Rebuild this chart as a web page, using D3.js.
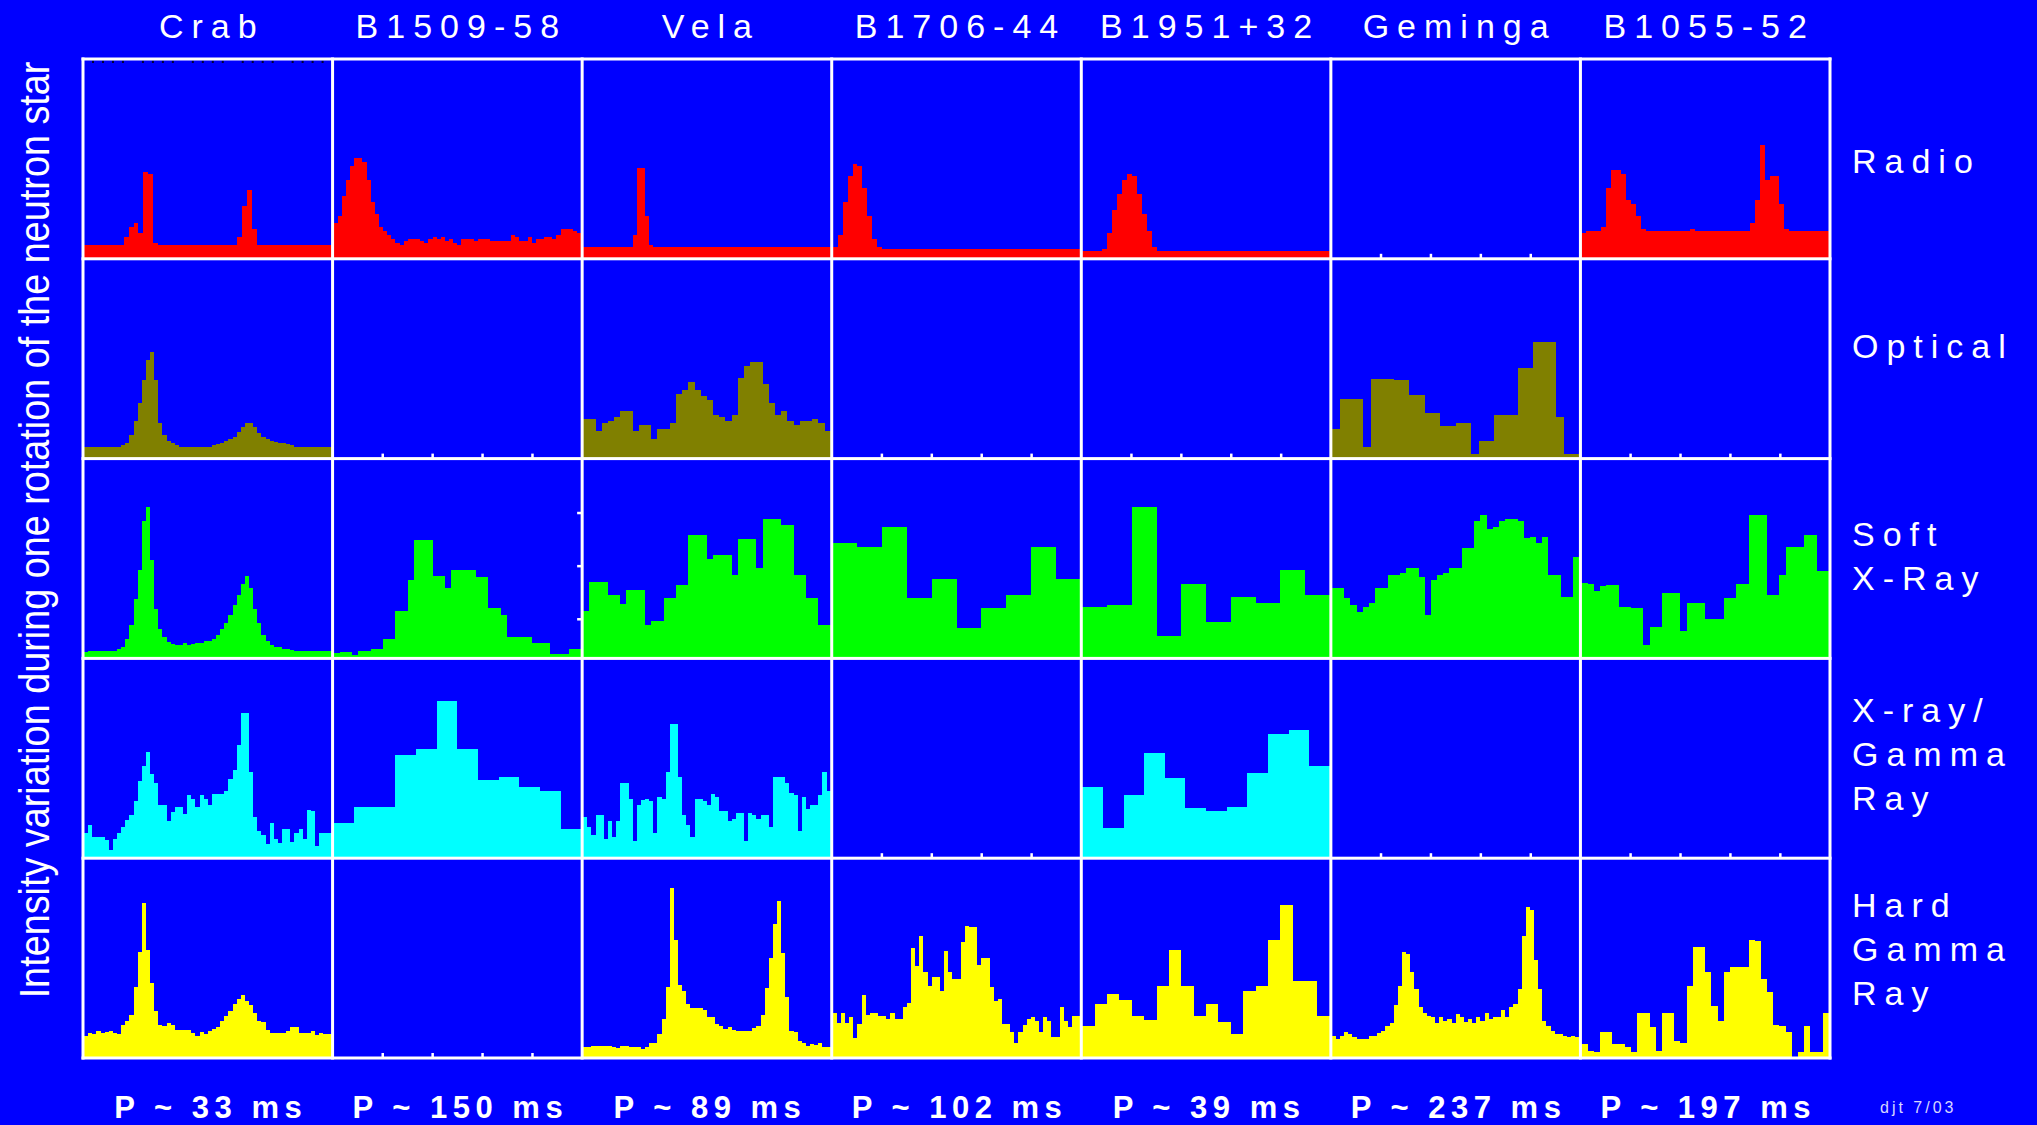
<!DOCTYPE html>
<html>
<head>
<meta charset="utf-8">
<script src="https://cdn.jsdelivr.net/npm/d3@7"></script>
<style>
  html, body { margin: 0; padding: 0; background: #0000ff; overflow: hidden; }
  svg { display: block; }
</style>
</head>
<body>
<script>
// Pulsars (columns) and wavebands (rows)
const pulsars = ["Crab", "B1509-58", "Vela", "B1706-44", "B1951+32", "Geminga", "B1055-52"];
const periods = ["P ~ 33 ms", "P ~ 150 ms", "P ~ 89 ms", "P ~ 102 ms", "P ~ 39 ms", "P ~ 237 ms", "P ~ 197 ms"];
const bandKeys = ["radio", "optical", "softx", "xgamma", "hardgamma"];
const bandLabels = [["Radio"], ["Optical"], ["Soft", "X-Ray"], ["X-ray/", "Gamma", "Ray"], ["Hard", "Gamma", "Ray"]];
const yTitle = "Intensity variation during one rotation of the neutron star";
const stamp = "djt 7/03";

// Pulse profiles: relative intensity per phase bin (0-100 = panel height)
const radioCrab = [7,7,7,7,7,7,7,7,11,16, 18,13,44,43,8,7,7,7,7,7, 7,7,7,7,7,7,7,7,7,7, 7,11,27,35,15,7,7,7,7,7, 7,7,7,7,7,7,7,7,7,7];
const radioB1509 = [18,22,32,40,47,51,51,49,40,29, 23,16,14,12,10,8,7,9,10,10, 10,9,8,10,11,10,11,9,10,8, 7,10,10,10,9,10,10,10,9,9, 9,9,9,12,11,9,9,11,8,10, 10,11,11,10,12,15,15,15,14,13];
const radioVela = [6,6,6,6,6,6,6,6,6,6, 6,6,12,46,46,22,7,6,6,6, 6,6,6,6,6,6,6,6,6,6, 6,6,6,6,6,6,6,6,6,6, 6,6,6,6,6,6,6,6,6,6, 6,6,6,6,6,6,6,6,6,6];
const radioB1706 = [6,12,29,42,48,47,36,22,10,6, 5,5,5,5,5,5,5,5,5,5, 5,5,5,5,5,5,5,5,5,5, 5,5,5,5,5,5,5,5,5,5, 5,5,5,5,5,5,5,5,5,5];
const radioB1951 = [4,4,4,4,5,13,25,33,40,43, 42,33,23,14,6,4,4,4,4,4, 4,4,4,4,4,4,4,4,4,4, 4,4,4,4,4,4,4,4,4,4, 4,4,4,4,4,4,4,4,4,4];
const radioB1055 = [13,14,14,14,16,36,45,45,43,30, 28,22,15,14,14,14,14,14,14,14, 14,14,15,14,14,14,14,14,14,14, 14,14,14,14,18,30,58,40,42,42, 28,15,14,14,14,14,14,14,14,14];

const opticalCrab = [6,6,6,6,6,6,6,6,6,7, 8,12,19,28,40,50,54,40,18,12, 9,8,7,6,6,6,6,6,6,6, 6,7,7.5,8,9,10,11,13.5,16,18, 18,16,13,11,10,9,8.5,8,8,7.6, 7,6,6,6,6,6,6,6,6,6];
const opticalVela = [20,20,14,18,19,21,24,24,14,17, 17,10,15,15,18,33,35,39,35,32, 30,22,21,19,22,41,47,49,49,38, 28,22,24,19,17,19,19,20,18,14];
const opticalGeminga = [15,30.5,30.5,30.5,6,40.7,40.7,40.7,40,40, 32.5,32.5,23.4,23.4,16.6,16.6,18.3,18.3,2.2,9, 9,22,22,22,45.8,45.8,59,59,59,21, 2.2,2.2];

const softCrab = [3,4,4,4,4,4,4,4,5,6, 10,17,30,45,70,77,50,25,15,11, 8.5,7.5,7,7,7.6,7,7.4,7.6,8,9, 9,10,12,15,18,22,27,32,38,42, 36,25,18,12,9,7,6,6,5,5, 4.5,4,4,4,4,4,4,4,4,4];
const softB1509 = [2.5,3,3,1.7,4,4,4.7,4.7,9.8,9.8, 24,24,40,60,60,60,42,42,36,45, 45,45,45,41.5,41.5,25.4,25.4,22,11,11, 11,11,8,8,8,2,2,2,4.7,4.7];
const softVela = [24,39,39,39,32,32,27.5,35,35,35, 17,19,19,30.5,30.5,37.3,37.3,62.7,62.7,62.7, 50.5,52.5,52.5,52.5,42.4,60.7,60.7,60.7,45.8,70.8, 70.8,70.8,67.8,67.8,42.4,42.4,30.5,30.5,17,17];
const softB1706 = [58.5,56.8,66.9,30.5,40.3,15.3,25.4,32,56.8,40.3];
const softB1951 = [26,27,77,11.4,38,18.3,31.4,28,45,32];
const softGeminga = [36,35.6,30.5,27,23.4,26,28,35.6,35.6,42.4, 42.4,43.2,46,46,41.5,22,40,42.4,43.2,46, 46,56,56,70,72.9,66,67,70,71,71, 70,61,61.5,58.6,61.5,42.4,42.4,31.4,31.4,51.5];
const softB1055 = [38.5,38,34,37,37.3,37.3,26,26,25.4,25.4, 7,16,16,33,33,33,13.9,28,28,28, 20,20,20,30.5,30.5,38,38,72.9,72.9,72.9, 32,32,42.4,56.8,56.8,56.8,62.7,62.7,44.4,44.4];

const xgCrab = [13,17,11,11,11,9,4,10,13,16, 19.5,22,29,39,47,54,43,38,27,27, 19,23.7,25.8,25.8,22.5,32,30,26,32,30, 27,32.5,32.5,32.5,34,40,45,57.6,74,74, 44,21,14,12,7,18,10,7.6,15,15, 8,13,14.7,10,24.7,24,6,12.7,13,13];
const xgB1509 = [18,26,26,52.5,55.6,80,55.6,39.5,41.5,36.4,34,15];
const xgVela = [21,16,12,22,22,10,19,11,19,38, 38,30,8.5,27,29.7,30,29,13,31,30, 44,68,68,41.5,22,17,11,30,30,29, 27,32.5,31,24,24,19,20,23,23,8.5, 23,22,20,22,22,16,41.5,41.5,41.5,38, 33,32,14,31,25,27,27,32,44,34];
const xgB1951 = [36.4,15.3,32,53.7,40.7,25.4,24,26,43.4,63,65,46.6];

const hgCrab = [11.4,12.5,12,13.5,12.5,13,13.5,12.5,12,17, 18.6,22,36,54,79,55,38,24,17,16.4, 17.6,17,14,14,14,14,12.5,11.4,13,12, 13.5,14.5,16,19,21.5,24,27.5,30,32.2,29, 27,23,19,18.5,14,12.5,12.5,12.8,12.8,13.5, 15.6,15.6,12.5,12.5,12.5,13.5,11.5,12.8,12.2,12.2];
const hgVela = [5.4,5.4,6.3,6.3,6.3,6,6,5.8,5.2,6.2, 6.3,5.4,5.8,5.8,4.6,5.8,7.5,7.8,12,20, 36,86.4,60,36.9,34,27.5,25.4,25.4,25.4,24.5, 20.7,20.7,17.3,16.5,14.7,15.8,14,13.6,13.6,13.6, 13.6,15,16.5,22,35.6,51,68,80,53.5,30.8, 13.8,13,8.8,7.5,6.3,7,6.5,7.5,5.4,5.4];
const hgB1706 = [23,18,23,18,20.7,10,17.3,32,22,23, 23,21.5,21.5,19.8,23,19.8,19.8,25.8,27.8,56, 47,62,43.6,36.8,41,41,34,54.6,43.6,40, 40,58.8,67.3,66.4,66.4,47.5,51,51,36,29, 30,17.3,17.3,13,7.5,13,17,20,21,19, 13,21,19,10.5,10.5,25.8,19,15.6,21.5,21.5];
const hgB1951 = [16.4,27.5,32.5,29.5,21.5,19.3,36.8,55,36.8,21.5, 27.5,18.5,12.2,34.2,36.8,60,77.5,39,39,21.5];
const hgGeminga = [11.4,9.7,11.4,13,12,10.5,9.7,9.7,9.7,11.4, 11.4,12.5,13.9,16.4,17.6,27,36.8,53.7,53,43.6, 35,25.8,22.7,21.5,20.7,17.6,21,19,20,17.6, 22.4,20.7,18.5,20,18,21,19,23,20,20.7, 21,24.4,21,25.8,27.5,35,62,76.6,75,50, 35,19,16.4,13.9,12.2,12.2,11.4,10.5,11.4,10.5];
const hgB1055 = [7,3.5,2.9,13,13,7,7,5.4,2.9,23, 23,16,3.7,23,23,8.8,7.5,36.8,56.6,56.6, 43.6,26.6,19,43.6,46.4,46.4,46.4,60,59.7,40.3, 33.4,17,16.4,13,0.5,2.9,16.4,2.9,2.9,23];

// Phase ticks on each panel's baseline, minor phase ticks on the Crab radio frame,
// and the intensity ticks beside the Vela soft X-ray panel
const phaseTicks = [0.2, 0.4, 0.6, 0.8];
const minorPhaseTicks = [0.04,0.08,0.12,0.16, 0.24,0.28,0.32,0.36, 0.44,0.48,0.52,0.56, 0.64,0.68,0.72,0.76, 0.84,0.88,0.92,0.96];
const velaSoftTicks = [20, 47, 74];

// Lookup table: band -> pulsar -> profile (null = no detection shown)
const profiles = {
  radio:     [radioCrab, radioB1509, radioVela, radioB1706, radioB1951, null, radioB1055],
  optical:   [opticalCrab, null, opticalVela, null, null, opticalGeminga, null],
  softx:     [softCrab, softB1509, softVela, softB1706, softB1951, softGeminga, softB1055],
  xgamma:    [xgCrab, xgB1509, xgVela, null, xgB1951, null, null],
  hardgamma: [hgCrab, null, hgVela, hgB1706, hgB1951, hgGeminga, hgB1055]
};
const bandColors = { radio: "#ff0000", optical: "#808000", softx: "#00ff00", xgamma: "#00ffff", hardgamma: "#ffff00" };

const W = 2037, H = 1125;
const font = "'Liberation Sans', Arial, Helvetica, sans-serif";
const svg = d3.select("body").append("svg").attr("width", W).attr("height", H);
svg.append("rect").attr("width", W).attr("height", H).attr("fill", "#0000ff");

const col = d3.scaleBand().domain(pulsars).range([83, 1830]);
const row = d3.scaleBand().domain(bandKeys).range([59, 1058]);
const bw = col.bandwidth(), bh = row.bandwidth();
const fullScale = bh - 3;

const panels = svg.append("g");
bandKeys.forEach(band => {
  pulsars.forEach((p, pi) => {
    const x0 = col(p), y0 = row(band);
    const g = panels.append("g");
    const tx = d3.scaleLinear().domain([0, 1]).range([x0, x0 + bw]);
    g.selectAll("rect.tick").data(phaseTicks).join("rect").attr("class", "tick")
      .attr("x", d => tx(d) - 1).attr("y", y0 + bh - 5).attr("width", 2.5).attr("height", 5)
      .attr("fill", "#ffffff");
    const vals = profiles[band][pi];
    if (!vals) return;
    const n = vals.length;
    const x = d3.scaleLinear().domain([0, n]).range([x0 + 1, x0 + bw - 1]);
    const y = d3.scaleLinear().domain([0, 100]).range([y0 + bh, y0 + bh - fullScale]);
    const pts = vals.map((v, i) => [i, v]);
    pts.push([n, vals[n - 1]]);
    const area = d3.area().x(d => x(d[0])).y0(y(0)).y1(d => y(d[1])).curve(d3.curveStepAfter);
    g.append("path").datum(pts).attr("d", area)
      .attr("fill", bandColors[band]).attr("shape-rendering", "crispEdges");
  });
});

// Minor phase ticks under the top frame of the Crab radio panel
{
  const tx = d3.scaleLinear().domain([0, 1]).range([col("Crab"), col("Crab") + bw]);
  svg.append("g").selectAll("rect").data(minorPhaseTicks).join("rect")
    .attr("x", d => tx(d) - 1).attr("y", row("radio") + 1.5).attr("width", 2).attr("height", 2.5)
    .attr("fill", "#000033");
}

// Intensity ticks left of the Vela soft X-ray panel
{
  const y0 = row("softx");
  const ty = d3.scaleLinear().domain([0, 100]).range([y0 + bh, y0 + bh - fullScale]);
  svg.append("g").selectAll("rect").data(velaSoftTicks).join("rect")
    .attr("x", col("Vela") - 5).attr("y", d => ty(d) - 1).attr("width", 4).attr("height", 2.5)
    .attr("fill", "#ffffff");
}

// Frame lines
const lines = svg.append("g").attr("fill", "#ffffff");
const colEdges = pulsars.map(p => col(p)).concat([col.range()[1]]);
const rowEdges = bandKeys.map(b => row(b)).concat([row.range()[1]]);
lines.selectAll("rect.v").data(colEdges).join("rect").attr("class", "v")
  .attr("x", d => d - 1.5).attr("y", rowEdges[0] - 1.5).attr("width", 3)
  .attr("height", rowEdges[rowEdges.length - 1] - rowEdges[0] + 3);
lines.selectAll("rect.h").data(rowEdges).join("rect").attr("class", "h")
  .attr("x", colEdges[0] - 1.5).attr("y", d => d - 1.5).attr("height", 3)
  .attr("width", colEdges[colEdges.length - 1] - colEdges[0] + 3);

// Column titles
const titleSpacing = 8;
svg.append("g").selectAll("text").data(pulsars).join("text")
  .attr("x", d => col(d) + bw / 2 + titleSpacing / 2).attr("y", 38)
  .attr("text-anchor", "middle").attr("fill", "#ffffff")
  .attr("font-family", font).attr("font-size", 34).attr("letter-spacing", titleSpacing)
  .text(d => d);

// Waveband labels on the right
const labelNudge = { radio: 7.5, optical: -7.5, softx: 2, xgamma: 1, hardgamma: -4 };
bandKeys.forEach((band, bi) => {
  const lab = bandLabels[bi];
  const cy = row(band) + bh / 2;
  svg.append("g").selectAll("text").data(lab).join("text")
    .attr("x", 1852)
    .attr("y", (d, k) => cy + (k - (lab.length - 1) / 2) * 44 + 7 + labelNudge[band])
    .attr("fill", "#ffffff").attr("font-family", font).attr("font-size", 34)
    .attr("letter-spacing", titleSpacing).text(d => d);
});

// Rotation periods under each column
svg.append("g").selectAll("text").data(periods).join("text")
  .attr("x", (d, i) => col(pulsars[i]) + bw / 2 + 3).attr("y", 1118)
  .attr("text-anchor", "middle").attr("fill", "#ffffff")
  .attr("font-family", font).attr("font-size", 31).attr("font-weight", "bold")
  .attr("letter-spacing", 5.5).text(d => d);

// Vertical axis title (condensed lettering)
svg.append("text")
  .attr("transform", "translate(49,530) rotate(-90) scale(0.9,1)")
  .attr("text-anchor", "middle").attr("fill", "#ffffff")
  .attr("font-family", font).attr("font-size", 42)
  .text(yTitle);

// Author stamp
svg.append("text").attr("x", 1880).attr("y", 1113)
  .attr("fill", "#ffffff").attr("fill-opacity", 0.85)
  .attr("font-family", font).attr("font-size", 16).attr("letter-spacing", 3)
  .text(stamp);
</script>
</body>
</html>
